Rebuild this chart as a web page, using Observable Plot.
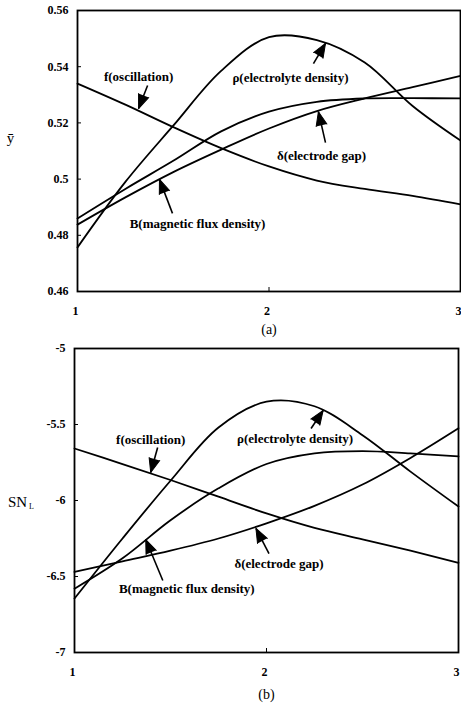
<!DOCTYPE html>
<html><head><meta charset="utf-8">
<script src="https://cdn.jsdelivr.net/npm/d3@7"></script>
<script src="https://cdn.jsdelivr.net/npm/@observablehq/plot@0.6"></script>
<style>
body{margin:0;background:#fff;}
#chart svg{display:block;}
</style></head><body><div id="chart"></div>
<script>
// ---------- data ----------
const xValues = [1, 1.25, 1.5, 1.75, 2, 2.25, 2.5, 2.75, 3];
const xTicks = [1, 2, 3];

// panel (a): mean response y-bar
const aTicks = [0.46, 0.48, 0.5, 0.52, 0.54, 0.56];
const aOsc   = [0.534, 0.5265, 0.5185, 0.511, 0.5045, 0.4995, 0.4965, 0.494, 0.491];
const aRho   = [0.4757, 0.499, 0.519, 0.5385, 0.5505, 0.5495, 0.5415, 0.526, 0.5137];
const aFlux  = [0.486, 0.4965, 0.5065, 0.517, 0.524, 0.5275, 0.5287, 0.5288, 0.5287];
const aGap   = [0.4838, 0.4935, 0.5025, 0.5105, 0.518, 0.5242, 0.5287, 0.5327, 0.5367];

// panel (b): SN_L
const bTicks = [-7, -6.5, -6, -5.5, -5];
const bOsc   = [-5.658, -5.76, -5.865, -5.975, -6.085, -6.18, -6.255, -6.33, -6.41];
const bRho   = [-6.645, -6.25, -5.87, -5.52, -5.35, -5.38, -5.57, -5.81, -6.04];
const bFlux  = [-6.58, -6.38, -6.13, -5.92, -5.76, -5.69, -5.675, -5.69, -5.71];
const bGap   = [-6.47, -6.40, -6.33, -6.25, -6.15, -6.035, -5.895, -5.72, -5.525];

const seriesNames = ["f(oscillation)", "ρ(electrolyte density)", "δ(electrode gap)", "B(magnetic flux density)"];

// annotation label positions (data coords) and arrows (start -> tip)
const aLabelX = [1.319, 2.112, 2.274, 1.627];
const aLabelY = [0.5365, 0.5362, 0.5084, 0.4842];
const aArrow = [
  [1.366, 0.5333, 1.319, 0.5251],
  [2.232, 0.5411, 2.295, 0.5483],
  [2.295, 0.5130, 2.258, 0.5240],
  [1.496, 0.4878, 1.428, 0.4999]
];
const bLabelX = [1.397, 2.149, 2.065, 1.585];
const bLabelY = [-5.599, -5.592, -6.414, -6.579];
const bArrow = [
  [1.433, -5.651, 1.397, -5.816],
  [2.232, -5.526, 2.295, -5.408],
  [2.013, -6.349, 1.945, -6.184],
  [1.460, -6.526, 1.371, -6.257]
];

const FONT = "'Liberation Serif', 'Times New Roman', serif";

function panel({series, yTicks, yDomain, labelX, labelY, arrows, height, mt, mb, ml, mr, yLabel, yLabelSub, panelLabel, yLabelDx, yLabelDy, plDy}) {
  const width = 461;
  const xs = d3.scaleLinear([1, 3], [ml, width - mr]);
  const ys = d3.scaleLinear(yDomain, [height - mb, mt]);
  const lines = [];
  series.forEach((vals, i) => vals.forEach((v, j) => lines.push({s: seriesNames[i], x: xValues[j], y: v})));
  const labels = seriesNames.map((n, i) => ({n, x: labelX[i], y: labelY[i]}));
  const arr = arrows.map(([x1, y1, x2, y2]) => {
    const dx = xs(x2) - xs(x1), dy = ys(y2) - ys(y1);
    return {x1, y1, x2, y2, rot: Math.atan2(dx, -dy) * 180 / Math.PI};
  });
  const marks = [
    Plot.line(lines, {x: "x", y: "y", z: "s", curve: "catmull-rom", stroke: "black", strokeWidth: 1.8}),
    Plot.link(arr, {x1: "x1", y1: "y1", x2: "x2", y2: "y2", stroke: "black", strokeWidth: 1.6}),
    Plot.vector(arr, {x: "x2", y: "y2", rotate: "rot", length: 14, r: 5.5, shape: "spike", anchor: "end", fill: "black", stroke: "black", strokeWidth: 1}),
    Plot.text(labels, {x: "x", y: "y", text: "n", fontSize: 13, fontWeight: "bold", fill: "black", textAnchor: "middle", letterSpacing: 0.5}),
    Plot.frame({stroke: "black", strokeWidth: 1.8}),
    Plot.axisY({ticks: yTicks, tickSize: -4, tickPadding: 13, tickFormat: d => String(d), label: null, fontSize: 12, fontWeight: "bold"}),
    Plot.axisX({ticks: xTicks, tickSize: 0, tickPadding: 15, dx: -2, tickFormat: d => String(d), label: null, fontSize: 12, fontWeight: "bold"}),
    Plot.axisX({ticks: [2], tickSize: -4, tickFormat: () => "", label: null}),
    Plot.text([yLabel], {frameAnchor: "left", dx: yLabelDx, dy: yLabelDy, text: d => d, fontSize: 15, textAnchor: "middle"}),
    Plot.text([panelLabel], {frameAnchor: "bottom", dy: plDy, text: d => d, fontSize: 14, textAnchor: "middle"})
  ];
  if (yLabelSub) marks.push(Plot.text([yLabelSub], {frameAnchor: "left", dx: yLabelDx + 14, dy: yLabelDy + 4, text: d => d, fontSize: 8, textAnchor: "middle"}));
  return Plot.plot({
    width, height,
    marginTop: mt, marginBottom: mb, marginLeft: ml, marginRight: mr,
    x: {domain: [1, 3]},
    y: {domain: yDomain},
    style: {fontFamily: FONT, fontSize: "12px", background: "white", color: "black", overflow: "visible"},
    marks
  });
}

const panelA = panel({
  series: [aOsc, aRho, aGap, aFlux], yTicks: aTicks, yDomain: [0.46, 0.56],
  labelX: aLabelX, labelY: aLabelY, arrows: aArrow,
  height: 340, mt: 10, mb: 49, ml: 77, mr: 1,
  yLabel: "ȳ", yLabelSub: null, panelLabel: "(a)", yLabelDx: -67, yLabelDy: -13, plDy: 42
});
const panelB = panel({
  series: [bOsc, bRho, bGap, bFlux], yTicks: bTicks, yDomain: [-7, -5],
  labelX: bLabelX, labelY: bLabelY, arrows: bArrow,
  height: 366, mt: 8, mb: 54, ml: 74, mr: 3,
  yLabel: "SN", yLabelSub: "L", panelLabel: "(b)", yLabelDx: -57, yLabelDy: 2, plDy: 46
});
document.getElementById("chart").append(panelA, panelB);
</script></body></html>
